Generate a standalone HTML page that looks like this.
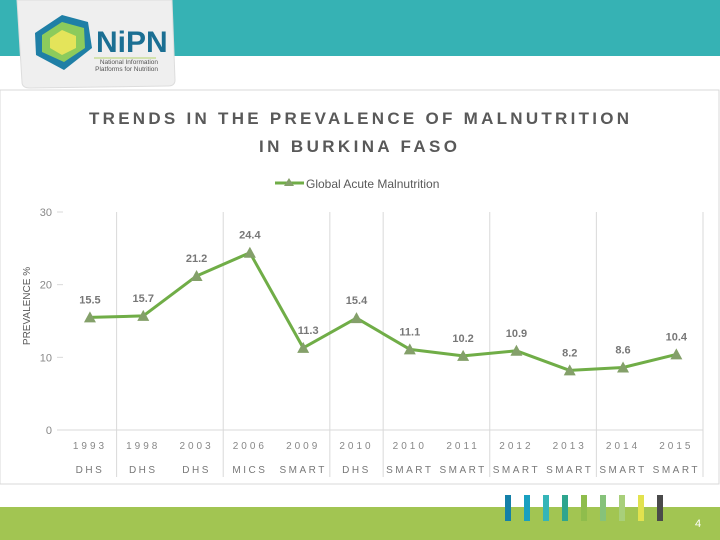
<!DOCTYPE html>
<html><head><meta charset="utf-8"><style>
html,body{margin:0;padding:0;background:#fff;}
body{width:720px;height:540px;overflow:hidden;position:relative;font-family:"Liberation Sans",sans-serif;}
</style></head><body>
<svg width="720" height="540" xmlns="http://www.w3.org/2000/svg" style="position:absolute;left:0;top:0">
<rect x="0" y="0" width="720" height="56" fill="#36b2b4"/>
<rect x="0" y="90" width="719" height="394" fill="none" stroke="#d9d9d9" stroke-width="1"/>
<g>
<path d="M17 0 H172 L175 80 Q175 86 168 86 L30 88 Q22 88 22 82 Z" fill="#efefef" stroke="#ddd"/>
<polygon points="62,15 88,22 92,48 64,70 36,55 35,33" fill="#1f7fa6"/>
<polygon points="62,22 84,28 85,48 64,62 42,52 42,35" fill="#8ccb5c"/>
<polygon points="62,30 76,36 76,48 62,55 50,48 50,38" fill="#e4e45a"/>
<text x="96" y="52" font-size="30" font-weight="bold" fill="#1b6f93">NiPN</text>
<line x1="94" y1="58" x2="156" y2="58" stroke="#b5d36b" stroke-width="1"/>
<text x="158" y="64" font-size="6.5" fill="#555" text-anchor="end">National Information</text>
<text x="158" y="71" font-size="6.5" fill="#555" text-anchor="end">Platforms for Nutrition</text>
</g>
<g fill="#595959" font-weight="bold" font-size="17" text-anchor="middle">
<text x="359" y="124" textLength="540" lengthAdjust="spacing">TRENDS IN THE PREVALENCE OF MALNUTRITION</text>
<text x="358" y="152" textLength="198" lengthAdjust="spacing">IN BURKINA FASO</text>
</g>
<g>
<line x1="275" y1="183" x2="304" y2="183" stroke="#70ad47" stroke-width="3"/>
<polygon points="289,178 294,186 284,186" fill="#84a06a"/>
<text x="306" y="188" font-size="12" fill="#595959">Global Acute Malnutrition</text>
</g>
<rect x="0" y="507" width="720" height="33" fill="#a2c552"/>
<g id="stripes"></g>
<text x="698" y="527" font-size="11" fill="#fff" text-anchor="middle">4</text>
<g id="chart"></g>
</svg>
<script>
const years=["1993","1998","2003","2006","2009","2010","2010","2011","2012","2013","2014","2015"];
const surveys=["DHS","DHS","DHS","MICS","SMART","DHS","SMART","SMART","SMART","SMART","SMART","SMART"];
const gam=[15.5,15.7,21.2,24.4,11.3,15.4,11.1,10.2,10.9,8.2,8.6,10.4];
const yTicks=[0,10,20,30];
const separators=[1,3,5,6,8,10,12];
const NS="http://www.w3.org/2000/svg";
const L=63.3,R=703,T=212,B=430;
const bw=(R-L)/years.length;
const x=i=>L+bw*(i+0.5);
const xe=i=>L+bw*i;
const y=v=>B-(v/30)*(B-T);
const g=document.getElementById('chart');
function mk(t,a,p){const e=document.createElementNS(NS,t);for(const k in a)e.setAttribute(k,a[k]);(p||g).appendChild(e);return e;}
yTicks.forEach(v=>{
 const t=mk('text',{x:52,y:y(v)+4,'font-size':11,fill:'#888','text-anchor':'end'});t.textContent=v;
 
 
 mk('line',{x1:57,x2:63,y1:y(v),y2:y(v),stroke:'#d9d9d9'});
});
const yt=mk('text',{x:0,y:0,'font-size':10,fill:'#595959','text-anchor':'middle',transform:'translate(30,306) rotate(-90)'});
yt.textContent='PREVALENCE %';


separators.forEach(i=>{
 const l=mk('line',{x1:xe(i),x2:xe(i),y1:T,y2:477,stroke:'#d9d9d9'});
 
 
});
const ax=mk('line',{x1:60,x2:R,y1:B,y2:B,stroke:'#d9d9d9'});


years.forEach((yr,i)=>{
 const a=mk('text',{x:x(i),y:449,'font-size':10,fill:'#888','text-anchor':'middle','letter-spacing':'3'});a.textContent=yr;
 
 
 const b=mk('text',{x:x(i),y:473,'font-size':10,fill:'#777','text-anchor':'middle','letter-spacing':'2.5'});b.textContent=surveys[i];
 
 
});
const pl=mk('polyline',{points:gam.map((v,i)=>x(i)+','+y(v)).join(' '),fill:'none',stroke:'#70ad47','stroke-width':3,'stroke-linejoin':'round'});


gam.forEach((v,i)=>{
 const px=x(i),py=y(v);
 const m=mk('polygon',{points:`${px},${py-6} ${px+6},${py+5} ${px-6},${py+5}`,fill:'#84a06a'});
 
 
 const t=mk('text',{x:px+(i==4?5:0),y:py-14,'font-size':11,'font-weight':'bold',fill:'#777','text-anchor':'middle'});
 t.textContent=v.toFixed(1);
 
 
});
const stripeColors=["#1480a8","#19a0c0","#35b5b8","#2ea58e","#8fbd4c","#86c27a","#a8cf7a","#e2e24e","#4a4a4a"];
const sg=document.getElementById('stripes');
stripeColors.forEach((c,i)=>{
 const r=mk('rect',{x:505+i*19,y:495,width:6,height:26,fill:c},sg);
 
 
});
</script>
</body></html>
